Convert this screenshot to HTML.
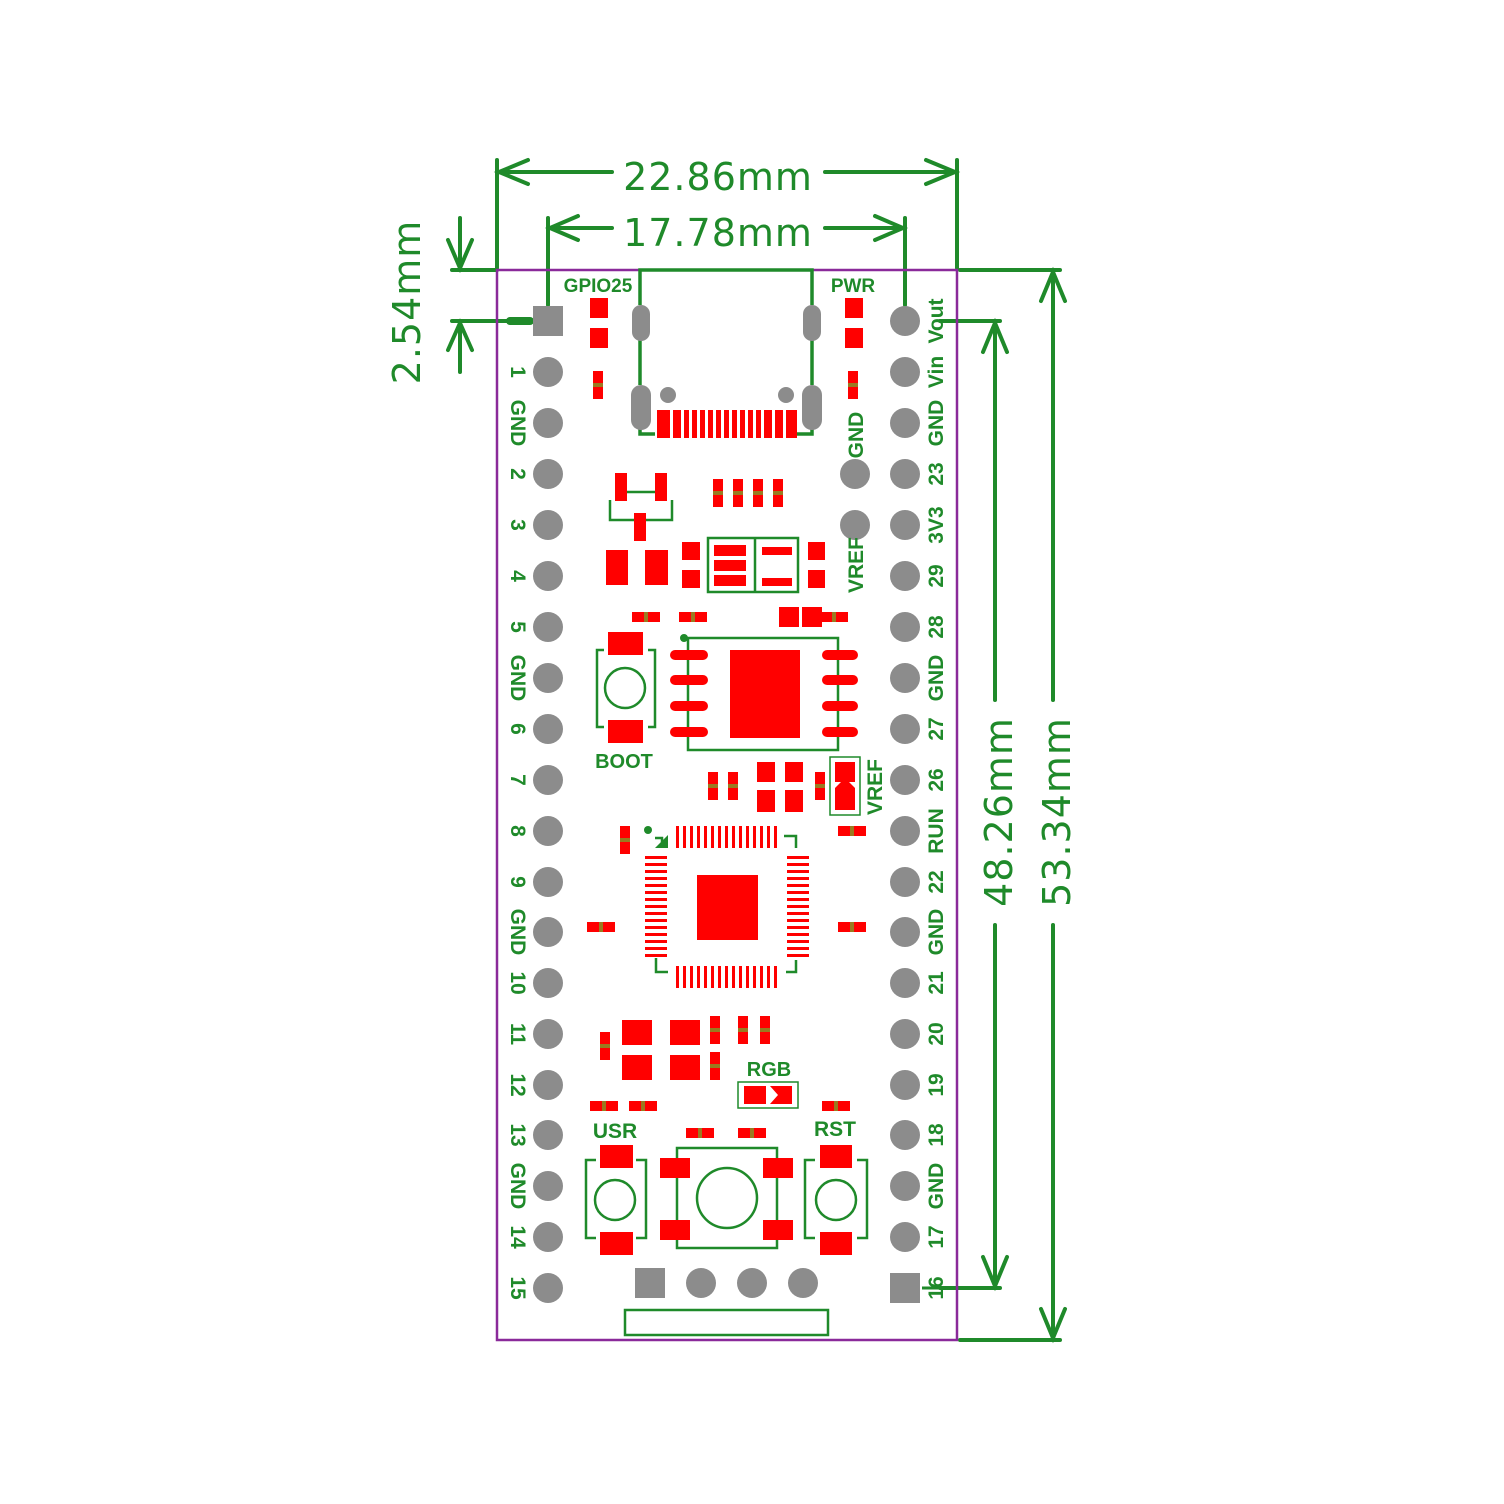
<!DOCTYPE html>
<html><head><meta charset="utf-8"><style>
html,body{margin:0;padding:0;background:#fff;}
svg{display:block}
.lbl{font-family:"Liberation Sans",sans-serif;font-weight:bold;fill:#1f8a2a;font-size:21px;}
.dim{font-family:"DejaVu Sans","Liberation Sans",sans-serif;fill:#1f8a2a;font-size:38px;letter-spacing:1px;}
</style></head><body>
<svg width="1504" height="1504" viewBox="0 0 1504 1504" xmlns="http://www.w3.org/2000/svg">
<defs>
<g id="res"><rect x="-5" y="-14" width="10" height="12" fill="#f00"/><rect x="-5" y="2" width="10" height="12" fill="#f00"/><rect x="-5" y="-2" width="10" height="4" fill="#9a7a20"/></g>
<g id="resh"><rect x="-14" y="-5" width="12" height="10" fill="#f00"/><rect x="2" y="-5" width="12" height="10" fill="#f00"/><rect x="-2" y="-5" width="4" height="10" fill="#9a7a20"/></g>
</defs>
<g stroke="#1f8a2a" stroke-width="4" fill="none" stroke-linecap="round">
<!-- 22.86 -->
<line x1="497" y1="160" x2="497" y2="268"/><line x1="957" y1="160" x2="957" y2="268"/>
<line x1="497" y1="172" x2="612" y2="172"/><line x1="825" y1="172" x2="957" y2="172"/>
<polyline points="528,160 499,172 528,184"/><polyline points="926,160 955,172 926,184"/>
<!-- 17.78 -->
<line x1="548" y1="218" x2="548" y2="305"/><line x1="905" y1="218" x2="905" y2="305"/>
<line x1="548" y1="228" x2="612" y2="228"/><line x1="825" y1="228" x2="905" y2="228"/>
<polyline points="578,216 550,228 578,240"/><polyline points="875,216 903,228 875,240"/>
<!-- 2.54 -->
<line x1="452" y1="270" x2="497" y2="270"/><line x1="460" y1="218" x2="460" y2="268"/>
<polyline points="448,240 460,268 472,240"/>
<line x1="452" y1="321" x2="525" y2="321"/><line x1="460" y1="323" x2="460" y2="372"/>
<polyline points="448,350 460,323 472,350"/>
<!-- 48.26 -->
<line x1="940" y1="321" x2="1000" y2="321"/><line x1="940" y1="1288" x2="1000" y2="1288"/>
<line x1="995" y1="323" x2="995" y2="700"/><line x1="995" y1="925" x2="995" y2="1286"/>
<polyline points="983,352 995,323 1007,352"/><polyline points="983,1257 995,1286 1007,1257"/>
<!-- 53.34 -->
<line x1="960" y1="270" x2="1060" y2="270"/><line x1="960" y1="1340" x2="1060" y2="1340"/>
<line x1="1053" y1="272" x2="1053" y2="700"/><line x1="1053" y1="925" x2="1053" y2="1338"/>
<polyline points="1041,301 1053,272 1065,301"/><polyline points="1041,1309 1053,1338 1065,1309"/>
</g>
<text class="dim" x="718" y="190" text-anchor="middle">22.86mm</text>
<text class="dim" x="718" y="246" text-anchor="middle">17.78mm</text>
<text class="dim" transform="translate(420,302) rotate(-90)" text-anchor="middle">2.54mm</text>
<text class="dim" transform="translate(1012,812) rotate(-90)" text-anchor="middle">48.26mm</text>
<text class="dim" transform="translate(1070,812) rotate(-90)" text-anchor="middle">53.34mm</text>

<!-- board -->
<rect x="497" y="270" width="460" height="1070" fill="none" stroke="#8a2a9a" stroke-width="2.5"/>
<line x1="510" y1="321" x2="530" y2="321" stroke="#1f8a2a" stroke-width="8" stroke-linecap="round"/>

<!-- pins -->
<g fill="#8c8c8c">
<rect x="533" y="306" width="30" height="30"/>
<circle cx="548" cy="372" r="15"/><circle cx="548" cy="423" r="15"/><circle cx="548" cy="474" r="15"/><circle cx="548" cy="525" r="15"/><circle cx="548" cy="576" r="15"/><circle cx="548" cy="627" r="15"/><circle cx="548" cy="678" r="15"/><circle cx="548" cy="729" r="15"/><circle cx="548" cy="780" r="15"/><circle cx="548" cy="831" r="15"/><circle cx="548" cy="882" r="15"/><circle cx="548" cy="932" r="15"/><circle cx="548" cy="983" r="15"/><circle cx="548" cy="1034" r="15"/><circle cx="548" cy="1085" r="15"/><circle cx="548" cy="1135" r="15"/><circle cx="548" cy="1186" r="15"/><circle cx="548" cy="1237" r="15"/><circle cx="548" cy="1288" r="15"/>
<circle cx="905" cy="321" r="15"/><circle cx="905" cy="372" r="15"/><circle cx="905" cy="423" r="15"/><circle cx="905" cy="474" r="15"/><circle cx="905" cy="525" r="15"/><circle cx="905" cy="576" r="15"/><circle cx="905" cy="627" r="15"/><circle cx="905" cy="678" r="15"/><circle cx="905" cy="729" r="15"/><circle cx="905" cy="780" r="15"/><circle cx="905" cy="831" r="15"/><circle cx="905" cy="882" r="15"/><circle cx="905" cy="932" r="15"/><circle cx="905" cy="983" r="15"/><circle cx="905" cy="1034" r="15"/><circle cx="905" cy="1085" r="15"/><circle cx="905" cy="1135" r="15"/><circle cx="905" cy="1186" r="15"/><circle cx="905" cy="1237" r="15"/>
<rect x="890" y="1273" width="30" height="30"/>
<circle cx="855" cy="474" r="15"/><circle cx="855" cy="525" r="15"/>
<rect x="635" y="1268" width="30" height="30"/>
<circle cx="701" cy="1283" r="15"/><circle cx="752" cy="1283" r="15"/><circle cx="803" cy="1283" r="15"/>
</g>
<line x1="940" y1="1288" x2="922" y2="1288" stroke="#1f8a2a" stroke-width="3"/>

<!-- left labels -->
<g class="lbl" text-anchor="middle">
<text transform="translate(511,372) rotate(90)">1</text>
<text transform="translate(511,423) rotate(90)">GND</text>
<text transform="translate(511,474) rotate(90)">2</text>
<text transform="translate(511,525) rotate(90)">3</text>
<text transform="translate(511,576) rotate(90)">4</text>
<text transform="translate(511,627) rotate(90)">5</text>
<text transform="translate(511,678) rotate(90)">GND</text>
<text transform="translate(511,729) rotate(90)">6</text>
<text transform="translate(511,780) rotate(90)">7</text>
<text transform="translate(511,831) rotate(90)">8</text>
<text transform="translate(511,882) rotate(90)">9</text>
<text transform="translate(511,932) rotate(90)">GND</text>
<text transform="translate(511,983) rotate(90)">10</text>
<text transform="translate(511,1034) rotate(90)">11</text>
<text transform="translate(511,1085) rotate(90)">12</text>
<text transform="translate(511,1135) rotate(90)">13</text>
<text transform="translate(511,1186) rotate(90)">GND</text>
<text transform="translate(511,1237) rotate(90)">14</text>
<text transform="translate(511,1288) rotate(90)">15</text>
</g>
<!-- right labels -->
<g class="lbl" text-anchor="middle">
<text transform="translate(943,321) rotate(-90)">Vout</text>
<text transform="translate(943,372) rotate(-90)">Vin</text>
<text transform="translate(943,423) rotate(-90)">GND</text>
<text transform="translate(943,474) rotate(-90)">23</text>
<text transform="translate(943,525) rotate(-90)">3V3</text>
<text transform="translate(943,576) rotate(-90)">29</text>
<text transform="translate(943,627) rotate(-90)">28</text>
<text transform="translate(943,678) rotate(-90)">GND</text>
<text transform="translate(943,729) rotate(-90)">27</text>
<text transform="translate(943,780) rotate(-90)">26</text>
<text transform="translate(943,831) rotate(-90)">RUN</text>
<text transform="translate(943,882) rotate(-90)">22</text>
<text transform="translate(943,932) rotate(-90)">GND</text>
<text transform="translate(943,983) rotate(-90)">21</text>
<text transform="translate(943,1034) rotate(-90)">20</text>
<text transform="translate(943,1085) rotate(-90)">19</text>
<text transform="translate(943,1135) rotate(-90)">18</text>
<text transform="translate(943,1186) rotate(-90)">GND</text>
<text transform="translate(943,1237) rotate(-90)">17</text>
<text transform="translate(943,1288) rotate(-90)">16</text>
<text transform="translate(863,435) rotate(-90)">GND</text>
<text transform="translate(863,565) rotate(-90)">VREF</text>
<text transform="translate(882,787) rotate(-90)">VREF</text>
<text x="598" y="292" font-size="19">GPIO25</text>
<text x="853" y="292" font-size="19">PWR</text>
<text x="624" y="768" font-size="20">BOOT</text>
<text x="769" y="1076" font-size="20">RGB</text>
<text x="615" y="1138" font-size="21">USR</text>
<text x="835" y="1136" font-size="21">RST</text>
</g>

<!-- USB -->
<g stroke="#1f8a2a" stroke-width="3.5" fill="none">
<polyline points="640,305 640,270 812,270 812,305"/>
<line x1="640" y1="340" x2="640" y2="385"/><line x1="812" y1="340" x2="812" y2="385"/>
<polyline points="640,425 640,434 655,434"/><polyline points="797,434 812,434 812,425"/>
</g>
<g fill="#8c8c8c">
<rect x="632" y="305" width="18" height="36" rx="9"/><rect x="803" y="305" width="18" height="36" rx="9"/>
<rect x="631" y="385" width="20" height="45" rx="10"/><rect x="802" y="385" width="20" height="45" rx="10"/>
<circle cx="668" cy="395" r="8"/><circle cx="786" cy="395" r="8"/>
</g>
<g fill="#f00">
<rect x="657" y="410" width="13" height="28"/><rect x="673" y="410" width="8" height="28"/><rect x="684" y="410" width="5" height="28"/><rect x="692" y="410" width="5" height="28"/><rect x="700" y="410" width="5" height="28"/><rect x="708" y="410" width="5" height="28"/><rect x="716" y="410" width="5" height="28"/><rect x="724" y="410" width="5" height="28"/><rect x="732" y="410" width="5" height="28"/><rect x="740" y="410" width="5" height="28"/><rect x="748" y="410" width="5" height="28"/><rect x="756" y="410" width="5" height="28"/><rect x="764" y="410" width="8" height="28"/><rect x="775" y="410" width="8" height="28"/><rect x="786" y="410" width="11" height="28"/>
<!-- LEDs -->
<rect x="590" y="298" width="18" height="20"/><rect x="590" y="328" width="18" height="20"/>
<rect x="845" y="298" width="18" height="20"/><rect x="845" y="328" width="18" height="20"/>
</g>
<use href="#res" x="598" y="385"/><use href="#res" x="853" y="385"/>

<!-- top block -->
<g stroke="#1f8a2a" stroke-width="2.5" fill="none">
<polyline points="610,500 610,520 672,520 672,500"/><line x1="627" y1="492" x2="655" y2="492"/>
<rect x="708" y="538" width="90" height="54"/><line x1="755" y1="538" x2="755" y2="592"/>
<rect x="688" y="638" width="150" height="112"/>
<polyline points="604,650 597,650 597,727 604,727"/><polyline points="648,650 655,650 655,727 648,727"/>
<circle cx="625" cy="688" r="20"/>
<rect x="830" y="757" width="30" height="58" stroke-width="1.5"/>
<polyline points="662,848 662,838 655,838"/><polyline points="784,836 796,836 796,848"/>
<polyline points="656,958 656,972 668,972"/><polyline points="786,972 796,972 796,960"/>
<rect x="738" y="1082" width="60" height="26" stroke-width="1.5"/>
<polyline points="596,1160 586,1160 586,1238 596,1238"/><polyline points="636,1160 646,1160 646,1238 636,1238"/>
<circle cx="615" cy="1200" r="20"/>
<polyline points="815,1160 805,1160 805,1238 815,1238"/><polyline points="857,1160 867,1160 867,1238 857,1238"/>
<circle cx="836" cy="1200" r="20"/>
<rect x="677" y="1148" width="100" height="100"/>
<circle cx="727" cy="1198" r="30"/>
<rect x="625" y="1310" width="203" height="25"/>
</g>
<circle cx="684" cy="638" r="4" fill="#1f8a2a"/>
<circle cx="648" cy="830" r="4" fill="#1f8a2a"/>
<polygon points="655,848 668,835 668,848" fill="#1f8a2a"/>
<g fill="#f00">
<rect x="615" y="473" width="12" height="28"/><rect x="655" y="473" width="12" height="28"/><rect x="634" y="513" width="12" height="28"/>
<rect x="606" y="550" width="22" height="35"/><rect x="645" y="550" width="23" height="35"/>
<rect x="682" y="542" width="18" height="18"/><rect x="682" y="570" width="18" height="18"/>
<rect x="808" y="542" width="17" height="18"/><rect x="808" y="570" width="17" height="18"/>
<rect x="714" y="545" width="32" height="11"/><rect x="714" y="560" width="32" height="11"/><rect x="714" y="575" width="32" height="11"/>
<rect x="762" y="547" width="30" height="8"/><rect x="762" y="578" width="30" height="8"/>
<rect x="779" y="607" width="20" height="20"/><rect x="802" y="607" width="20" height="20"/>
<rect x="608" y="632" width="35" height="23"/><rect x="608" y="720" width="35" height="23"/>
<rect x="730" y="650" width="70" height="88"/>
<rect x="670" y="650" width="38" height="10" rx="5"/><rect x="670" y="675" width="38" height="10" rx="5"/><rect x="670" y="701" width="38" height="10" rx="5"/><rect x="670" y="727" width="38" height="10" rx="5"/>
<rect x="822" y="650" width="36" height="10" rx="5"/><rect x="822" y="675" width="36" height="10" rx="5"/><rect x="822" y="701" width="36" height="10" rx="5"/><rect x="822" y="727" width="36" height="10" rx="5"/>
<rect x="757" y="762" width="18" height="20"/><rect x="757" y="790" width="18" height="22"/>
<rect x="785" y="762" width="18" height="20"/><rect x="785" y="790" width="18" height="22"/>
<rect x="835" y="762" width="20" height="20"/><polygon points="835,788 845,778 855,788 855,810 835,810"/>
<rect x="697" y="875" width="61" height="65"/>
<rect x="622" y="1020" width="30" height="25"/><rect x="670" y="1020" width="30" height="25"/>
<rect x="622" y="1055" width="30" height="25"/><rect x="670" y="1055" width="30" height="25"/>
<rect x="744" y="1086" width="22" height="18"/><polygon points="770,1086 792,1086 792,1104 770,1104 778,1095"/>
<rect x="600" y="1145" width="33" height="23"/><rect x="600" y="1232" width="33" height="23"/>
<rect x="820" y="1145" width="32" height="23"/><rect x="820" y="1232" width="32" height="23"/>
<rect x="660" y="1158" width="30" height="20"/><rect x="763" y="1158" width="30" height="20"/>
<rect x="660" y="1220" width="30" height="20"/><rect x="763" y="1220" width="30" height="20"/>
</g>
<g fill="#f00" id="qfn">
<!-- top pins -->
<rect x="676" y="826" width="3" height="22"/><rect x="683" y="826" width="3" height="22"/><rect x="690" y="826" width="3" height="22"/><rect x="697" y="826" width="3" height="22"/><rect x="704" y="826" width="3" height="22"/><rect x="711" y="826" width="3" height="22"/><rect x="718" y="826" width="3" height="22"/><rect x="725" y="826" width="3" height="22"/><rect x="732" y="826" width="3" height="22"/><rect x="739" y="826" width="3" height="22"/><rect x="746" y="826" width="3" height="22"/><rect x="753" y="826" width="3" height="22"/><rect x="760" y="826" width="3" height="22"/><rect x="767" y="826" width="3" height="22"/><rect x="774" y="826" width="3" height="22"/>
<rect x="676" y="966" width="3" height="22"/><rect x="683" y="966" width="3" height="22"/><rect x="690" y="966" width="3" height="22"/><rect x="697" y="966" width="3" height="22"/><rect x="704" y="966" width="3" height="22"/><rect x="711" y="966" width="3" height="22"/><rect x="718" y="966" width="3" height="22"/><rect x="725" y="966" width="3" height="22"/><rect x="732" y="966" width="3" height="22"/><rect x="739" y="966" width="3" height="22"/><rect x="746" y="966" width="3" height="22"/><rect x="753" y="966" width="3" height="22"/><rect x="760" y="966" width="3" height="22"/><rect x="767" y="966" width="3" height="22"/><rect x="774" y="966" width="3" height="22"/>
<rect x="645" y="856" width="22" height="3"/><rect x="645" y="863" width="22" height="3"/><rect x="645" y="870" width="22" height="3"/><rect x="645" y="877" width="22" height="3"/><rect x="645" y="884" width="22" height="3"/><rect x="645" y="891" width="22" height="3"/><rect x="645" y="898" width="22" height="3"/><rect x="645" y="905" width="22" height="3"/><rect x="645" y="912" width="22" height="3"/><rect x="645" y="919" width="22" height="3"/><rect x="645" y="926" width="22" height="3"/><rect x="645" y="933" width="22" height="3"/><rect x="645" y="940" width="22" height="3"/><rect x="645" y="947" width="22" height="3"/><rect x="645" y="954" width="22" height="3"/>
<rect x="787" y="856" width="22" height="3"/><rect x="787" y="863" width="22" height="3"/><rect x="787" y="870" width="22" height="3"/><rect x="787" y="877" width="22" height="3"/><rect x="787" y="884" width="22" height="3"/><rect x="787" y="891" width="22" height="3"/><rect x="787" y="898" width="22" height="3"/><rect x="787" y="905" width="22" height="3"/><rect x="787" y="912" width="22" height="3"/><rect x="787" y="919" width="22" height="3"/><rect x="787" y="926" width="22" height="3"/><rect x="787" y="933" width="22" height="3"/><rect x="787" y="940" width="22" height="3"/><rect x="787" y="947" width="22" height="3"/><rect x="787" y="954" width="22" height="3"/>
</g>
<!-- small resistors -->
<use href="#res" x="718" y="493"/><use href="#res" x="738" y="493"/><use href="#res" x="758" y="493"/><use href="#res" x="778" y="493"/>
<use href="#resh" x="646" y="617"/><use href="#resh" x="693" y="617"/><use href="#resh" x="834" y="617"/>
<use href="#res" x="713" y="786"/><use href="#res" x="733" y="786"/><use href="#res" x="820" y="786"/>
<use href="#resh" x="852" y="831"/>
<use href="#res" x="625" y="840"/>
<use href="#resh" x="601" y="927"/><use href="#resh" x="852" y="927"/>
<use href="#res" x="715" y="1030"/><use href="#res" x="743" y="1030"/><use href="#res" x="765" y="1030"/>
<use href="#res" x="715" y="1066"/><use href="#res" x="605" y="1046"/>
<use href="#resh" x="604" y="1106"/><use href="#resh" x="643" y="1106"/><use href="#resh" x="836" y="1106"/>
<use href="#resh" x="700" y="1133"/><use href="#resh" x="752" y="1133"/>
</svg>
</body></html>
